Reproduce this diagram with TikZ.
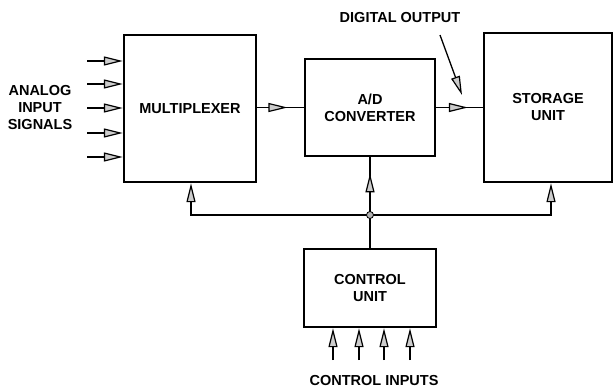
\documentclass[tikz,border=0pt]{standalone}
\usepackage{fontspec}
\setmainfont{Liberation Sans}
\usetikzlibrary{calc}
\usetikzlibrary{arrows.meta}
\usetikzlibrary{decorations.markings}

\tikzset{
  blk/.style={draw, line width=2.4pt, inner sep=0, align=center},
  tri/.tip={Triangle[length=19pt, width=9pt, fill=gray!40, line width=1.2pt]},
  arr/.style={line width=1.3pt, -tri},
  wire/.style={line width=1.3pt},
  midtip/.style={wire, postaction={decorate},
    decoration={markings, mark=at position #1 with {\arrow{tri}}}},
  txt/.style={align=center, font=\fontsize{14.5}{17}\selectfont\bfseries}
}

\begin{document}
\begin{tikzpicture}[x=1pt, y=-1pt]
\useasboundingbox (0,0) rectangle (614,388);

\node[blk, txt, minimum width=132pt, minimum height=147pt] (mux) at (190,108.5) {MULTIPLEXER};
\node[blk, txt, minimum width=130pt, minimum height=97pt] (adc) at (370,107.5) {A/D\\CONVERTER};
\node[blk, txt, minimum width=128pt, minimum height=149pt] (store) at (548,107.5) {STORAGE\\UNIT};
\node[blk, txt, minimum width=132pt, minimum height=78pt] (ctrl) at (370,288) {CONTROL\\UNIT};

\node[txt] (ain) at (40,108) {ANALOG\\INPUT\\SIGNALS};
\node[txt] (dout) at (400,18) {DIGITAL OUTPUT};
\node[txt] (cin) at (374,381) {CONTROL INPUTS};

% analog inputs
\foreach \y [count=\i] in {61,84,108,133,157} {
  \coordinate (ai\i) at (87,\y);
  \draw[arr] (ai\i) -- (ai\i -| mux.west);
}

% control inputs
\foreach \x [count=\i] in {333,359,384,410} {
  \coordinate (ci\i) at (\x,360);
  \draw[arr] (ci\i) -- (ci\i |- ctrl.south);
}

% data path
\draw[midtip=0.65] (mux.east |- adc.west) -- (adc.west);
\draw[midtip=0.68] (adc.east) -- (adc.east -| store.west);

\coordinate (dtail) at (440,35);
\coordinate (dhead) at (462,95);
\draw[arr] (dtail) -- (dhead);

% control bus
\coordinate (junc) at (370,215);
\draw[wire] (ctrl.north) -- (junc);
\draw[midtip=0.72] (junc) -- (adc.south);
\draw[arr] (junc) -| ($(mux.south)+(1,0)$);
\draw[arr] (junc) -| ($(store.south)+(3,0)$);
\fill[gray!60, draw=black, line width=0.8pt] (junc) circle (3.5pt);

\end{tikzpicture}
\end{document}
